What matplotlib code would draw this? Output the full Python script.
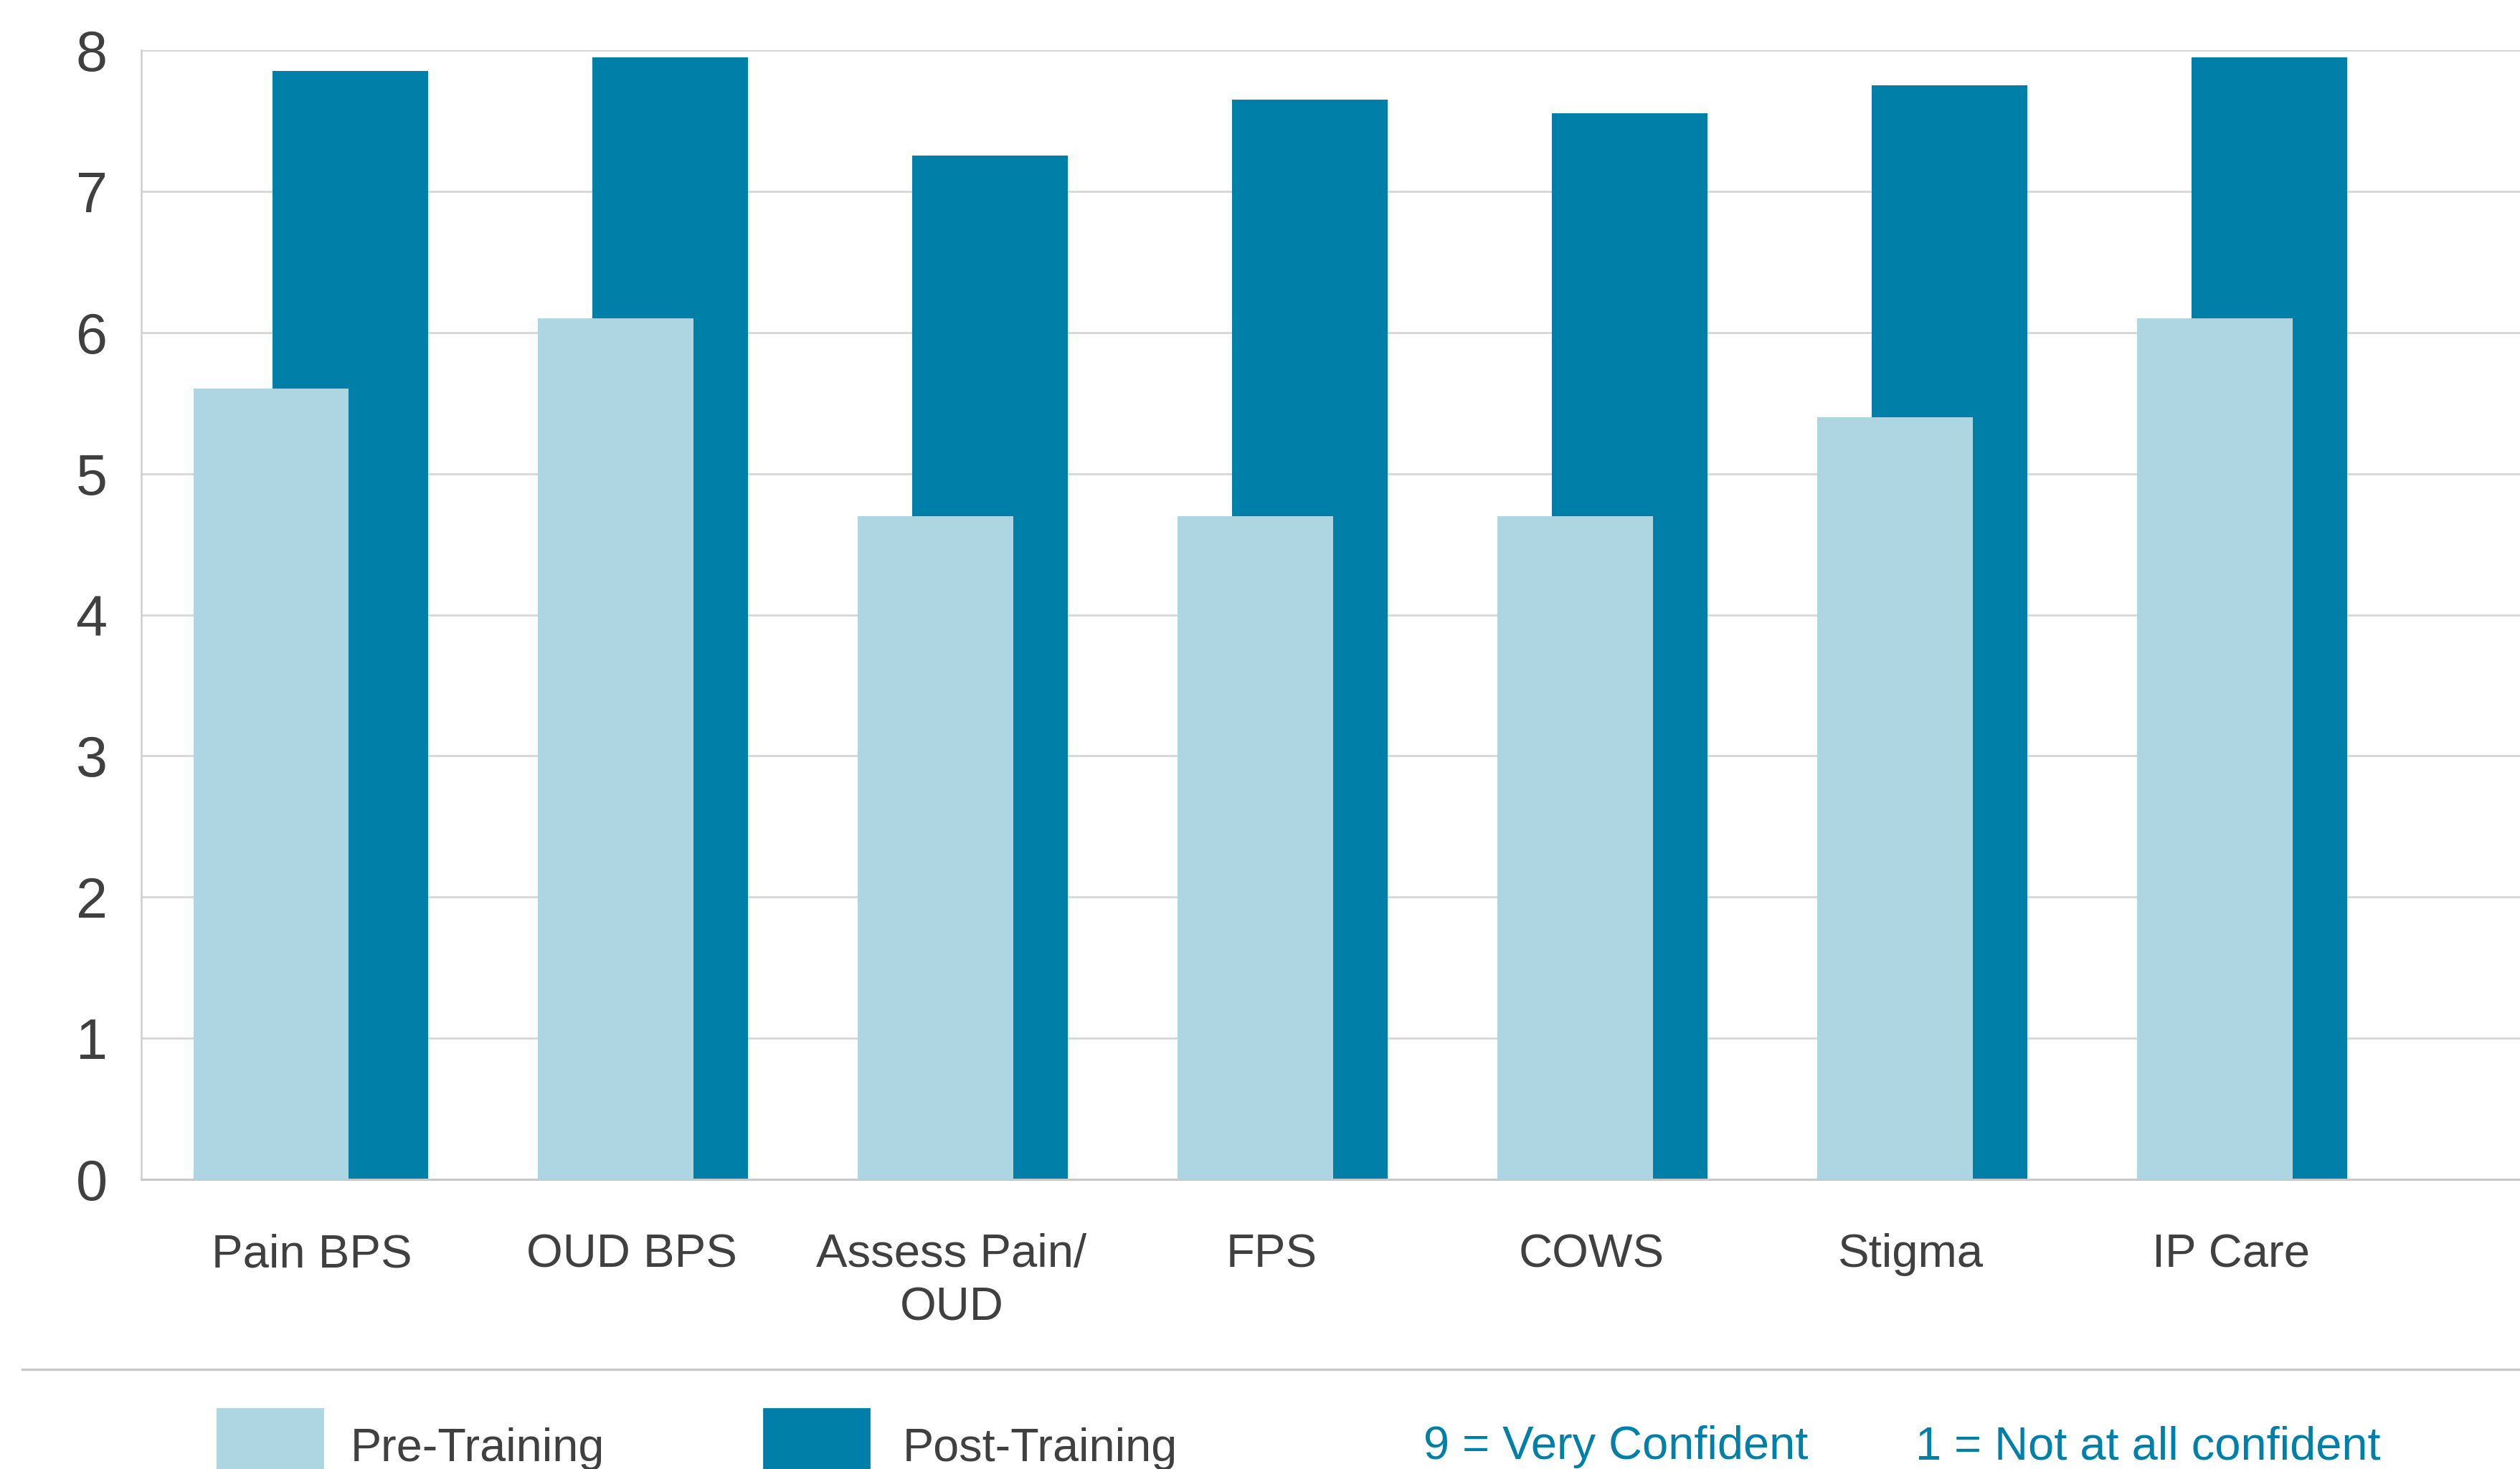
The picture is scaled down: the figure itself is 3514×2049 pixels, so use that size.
import matplotlib
matplotlib.use("Agg")
import matplotlib.pyplot as plt
from matplotlib.patches import Rectangle
from matplotlib.lines import Line2D

plt.rcParams['font.family'] = ['Liberation Sans', 'DejaVu Sans']

categories = ["Pain BPS", "OUD BPS", "Assess Pain/\nOUD", "FPS", "COWS", "Stigma", "IP Care"]
pre_training = [5.6, 6.1, 4.7, 4.7, 4.7, 5.4, 6.1]
post_training = [7.85, 7.95, 7.25, 7.65, 7.55, 7.75, 7.95]
y_ticks = [0, 1, 2, 3, 4, 5, 6, 7, 8]

pre_color = '#ADD5E2'
post_color = '#0080A9'
text_color = '#404040'
grid_color = '#D6D6D6'

# bar layout (offset from the category tick)
pre_offsets = [-0.127, -0.05, -0.05, -0.05, -0.05, -0.05, -0.05]
post_offset = 0.12
bar_width = 0.485

fig = plt.figure(figsize=(17.57, 10.245), dpi=200)
ax = fig.add_axes([0.056, 0.197, 0.944, 0.769])

x = list(range(len(categories)))
ax.bar([i + post_offset for i in x], post_training, width=bar_width,
       color=post_color, zorder=2)
ax.bar([i + o for i, o in zip(x, pre_offsets)], pre_training, width=bar_width,
       color=pre_color, zorder=3)

ax.set_xlim(-0.534, 6.904)
ax.set_ylim(0, 8)
ax.set_yticks(y_ticks)
ax.set_yticklabels([str(t) for t in y_ticks], fontsize=28.5, color=text_color)
ax.set_xticks(x)
ax.set_xticklabels(categories, fontsize=23.5, color=text_color, linespacing=1.3)
ax.tick_params(axis='y', length=0, pad=17)
ax.tick_params(axis='x', length=0, pad=27)

ax.yaxis.grid(True, color=grid_color, linewidth=1.0, zorder=0)
ax.set_axisbelow(True)
for s in ['top', 'right']:
    ax.spines[s].set_visible(False)
ax.spines['left'].set_color('#CFCFCF')
ax.spines['left'].set_linewidth(0.9)
ax.spines['bottom'].set_color('#C8C8C8')
ax.spines['bottom'].set_linewidth(1.1)

# separator line above legend
fig.add_artist(Line2D([0.0088, 1.0], [0.0678, 0.0678], color='#C8C8C8',
                      linewidth=1.2, transform=fig.transFigure))

# legend
fig.add_artist(Rectangle((0.0862, 0.0), 0.0418, 0.041, color=pre_color,
                         transform=fig.transFigure))
fig.add_artist(Rectangle((0.303, 0.0), 0.0418, 0.041, color=post_color,
                         transform=fig.transFigure))
fig.text(0.139, 0.0054, "Pre-Training", fontsize=23.3, color=text_color, va='baseline')
fig.text(0.3583, 0.0054, "Post-Training", fontsize=23.3, color=text_color, va='baseline')
fig.text(0.565, 0.0068, "9 = Very Confident", fontsize=23.4, color=post_color, va='baseline')
fig.text(0.760, 0.0068, "1 = Not at all confident", fontsize=23.4, color=post_color, va='baseline')

fig.savefig("out.png", dpi=200)
